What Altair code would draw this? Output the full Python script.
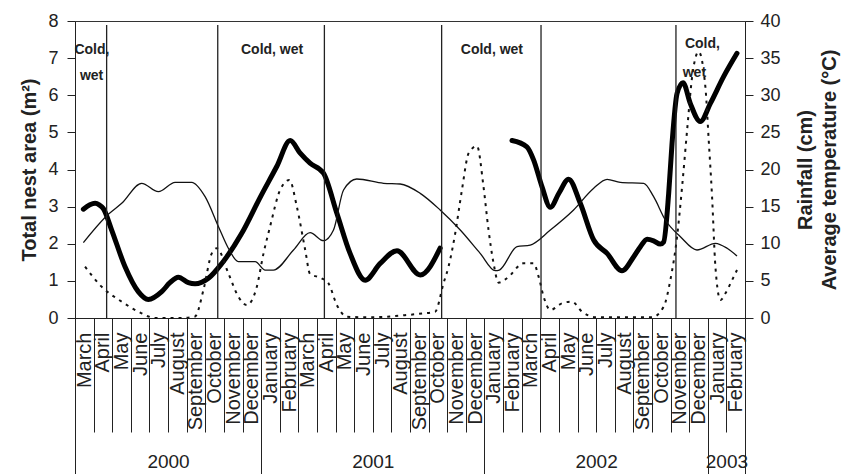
import altair as alt
import pandas as pd

# ---------------- data ----------------
cycle = ["March", "April", "May", "June", "July", "August", "September",
         "October", "November", "December", "January", "February"]
month_labels = (cycle * 3)  # March 2000 ... February 2003 (36 months)
years = ["2000", "2001", "2002", "2003"]
year_bounds = [0, 10, 22, 34, 36]  # month index where each year starts / ends

# Total nest area (m2), left axis; t = months since start of March 2000
nest_t = [0.45, 0.80, 1.08, 1.30, 1.52, 1.97, 2.69, 3.40, 3.94, 4.66, 5.10, 5.55,
          6.09, 6.45, 7.17, 7.89, 8.96, 9.95, 10.84, 11.56, 12.10, 12.63, 13.35,
          14.07, 14.78, 15.59, 16.40, 17.30, 18.55, 19.62,
          23.48, 24.28, 24.64, 25.09, 25.54, 26.00, 26.52, 27.15, 27.87, 28.59,
          29.39, 30.02, 30.38, 30.74, 31.09, 31.45, 31.63, 31.90, 32.08, 32.35,
          32.67, 33.06, 33.60, 34.14, 34.85, 35.57]
nest_v = [2.93, 3.05, 3.09, 3.05, 2.95, 2.37, 1.38, 0.71, 0.50, 0.71, 0.95, 1.10,
          0.95, 0.92, 1.07, 1.47, 2.28, 3.25, 4.08, 4.78, 4.44, 4.17, 3.90,
          2.82, 1.74, 1.02, 1.47, 1.81, 1.16, 1.88,
          4.78, 4.61, 4.26, 3.54, 2.98, 3.36, 3.74, 3.09, 2.10, 1.74,
          1.27, 1.65, 1.92, 2.12, 2.08, 1.99, 2.05, 3.36, 4.70, 6.05,
          6.34, 5.78, 5.29, 5.78, 6.50, 7.13]
nest_seg = [1] * 30 + [2] * 26

# Average temperature (deg C), right axis
temp_t = [0.45, 1.79, 2.51, 3.58, 4.48, 5.38, 6.27, 6.99, 7.71, 8.24, 8.78, 9.68,
          10.22, 10.66, 11.74, 12.63, 13.35, 13.89, 14.43, 15.14, 16.58, 17.47,
          18.55, 19.62, 20.70, 21.77, 22.58, 22.80, 23.75, 24.46, 25.54, 26.79,
          27.87, 28.59, 29.30, 30.56, 31.09, 31.72, 32.53, 33.42, 34.41, 35.04,
          35.57]
temp_v = [10.14, 13.96, 15.44, 18.14, 17.01, 18.27, 18.27, 16.34, 12.30, 9.39,
          7.59, 7.59, 6.46, 6.46, 9.16, 11.49, 10.41, 11.85, 17.24, 18.72, 18.14,
          18.05, 16.79, 14.55, 11.85, 8.71, 6.37, 6.46, 9.60, 9.83, 11.85, 14.55,
          17.47, 18.68, 18.27, 18.14, 16.34, 13.20, 10.95, 9.16, 10.06, 9.39,
          8.35]

# Rainfall (cm), right axis
rain_t = [0.54, 1.43, 2.51, 3.58, 4.30, 5.00, 5.80, 6.45, 6.90, 7.35, 7.62, 8.24,
          8.78, 9.23, 9.77, 10.13, 10.48, 11.02, 11.52, 11.92, 12.37, 12.63, 13.26,
          13.62, 14.07, 14.61, 15.50, 16.50, 17.83, 18.73, 19.35, 19.80, 20.07,
          20.43, 20.79, 21.15, 21.60, 21.95, 22.22, 22.49, 22.76, 23.21, 24.10,
          24.64, 24.91, 25.18, 25.54, 26.17, 26.70, 27.24, 28.00, 29.00, 30.00,
          31.00, 31.63, 31.99, 32.35, 32.62, 32.89, 33.16, 33.51, 33.87, 34.05,
          34.23, 34.41, 34.68, 34.95, 35.31, 35.57]
rain_v = [6.91, 4.22, 2.20, 0.63, 0.0, 0.0, 0.0, 0.2, 3.77, 8.71, 9.39, 6.02,
          2.87, 1.75, 4.22, 8.71, 12.30, 17.24, 18.59, 14.99, 9.16, 5.93, 5.35,
          4.67, 1.75, 0.18, 0.1, 0.15, 0.4, 0.63, 0.85, 4.67, 6.91,
          11.41, 17.24, 22.18, 23.16, 17.68, 11.85, 7.37, 4.76, 5.35, 7.37,
          7.37, 5.57, 2.87, 1.08, 1.98, 2.20, 0.85, 0.1, 0.1, 0.1,
          0.1, 1.52, 5.12, 10.95, 17.68, 25.32, 32.5, 35.86, 31.15, 23.97,
          16.34, 6.91, 2.42, 3.33, 5.12, 6.46]

# Season separators and "Cold, wet" notes (left-axis units)
sep_t = [1.70, 7.67, 13.40, 19.70, 25.04, 32.29]
sep_lo = [0] * 6
sep_hi = [7.89] * 6
ann_text = ["Cold,", "wet", "Cold, wet", "Cold, wet", "Cold,", "wet"]
ann_t = [0.91, 0.89, 10.59, 22.40, 33.71, 33.28]
ann_v = [7.22, 6.52, 7.22, 7.22, 7.38, 6.60]

# ---------------- frames ----------------
nest_df = pd.DataFrame({"t": nest_t, "v": nest_v, "seg": nest_seg})
temp_df = pd.DataFrame({"t": temp_t, "v": temp_v})
rain_df = pd.DataFrame({"t": rain_t, "v": rain_v})
sep_df = pd.DataFrame({"t": sep_t, "lo": sep_lo, "hi": sep_hi})
ann_df = pd.DataFrame({"text": ann_text, "t": ann_t, "v": ann_v})

FONT = "Liberation Sans"
INK = "#222222"
n_months = len(month_labels)

xscale = alt.Scale(domain=[0, n_months], nice=False, zero=False)
left_scale = alt.Scale(domain=[0, 8], nice=False, zero=True)
right_scale = alt.Scale(domain=[0, 40], nice=False, zero=True)

month_expr = "[" + ",".join("'%s'" % m for m in month_labels) + "][floor(datum.value)]"
year_centers = [(year_bounds[i] + year_bounds[i + 1]) / 2 for i in range(len(years))]
year_expr = ""
for i, y in enumerate(years[:-1]):
    year_expr += "datum.value < %s ? '%s' : " % (year_bounds[i + 1], y)
year_expr += "'%s'" % years[-1]

ax_month_ticks = alt.Axis(orient="bottom", values=list(range(n_months + 1)), tickSize=114,
                          labels=False, domain=True, domainColor=INK, tickColor=INK,
                          tickWidth=1, grid=False, title=None, offset=0)
ax_month_labels = alt.Axis(orient="bottom", values=[i + 0.5 for i in range(n_months)],
                           labelExpr=month_expr, ticks=False, tickSize=0, domain=False,
                           grid=False, title=None, labelAngle=270, labelAlign="right",
                           labelBaseline="middle", labelPadding=14, labelFontSize=20,
                           labelFont=FONT, labelColor=INK, labelOverlap=False,
                           labelFlush=False, labelBound=False, offset=0)
ax_year_ticks = alt.Axis(orient="bottom", values=year_bounds, tickSize=156, labels=False,
                         domain=False, tickColor=INK, tickWidth=1, grid=False, title=None,
                         offset=0)
ax_year_labels = alt.Axis(orient="bottom", values=year_centers, labelExpr=year_expr,
                          ticks=False, tickSize=0, domain=False, grid=False, title=None,
                          labelAngle=0, labelAlign="center", labelBaseline="middle",
                          labelPadding=143, labelFontSize=19, labelFont=FONT,
                          labelColor=INK, labelOverlap=False, labelFlush=False,
                          labelBound=False, offset=0)

left_axis = alt.Axis(orient="left", values=list(range(9)), tickSize=8, labelPadding=9,
                     labelFontSize=18, labelFont=FONT, labelColor=INK, domainColor=INK,
                     tickColor=INK, grid=False, title="Total nest area (m²)",
                     titleFont=FONT, titleFontSize=20, titleFontWeight="bold",
                     titleColor=INK, titleAngle=270, titleX=-40, titleY=148.5,
                     titleAlign="center", titleBaseline="alphabetic")
right_axis = alt.Axis(orient="right", values=list(range(0, 41, 5)), tickSize=8,
                      labelPadding=7, labelFontSize=18, labelFont=FONT, labelColor=INK,
                      domainColor=INK, tickColor=INK, grid=False,
                      title=["Rainfall (cm)", "Average temperature (°C)"], titleFont=FONT,
                      titleFontSize=20, titleFontWeight="bold", titleColor=INK,
                      titleAngle=270, titleX=66, titleY=148.5, titleAlign="center",
                      titleBaseline="alphabetic", titleLineHeight=24)

nest = alt.Chart(nest_df).mark_line(color="black", strokeWidth=5, strokeCap="round",
                                    strokeJoin="round", interpolate="monotone").encode(
    x=alt.X("t:Q", scale=xscale, axis=ax_month_ticks),
    y=alt.Y("v:Q", scale=left_scale, axis=left_axis),
    detail="seg:N",
)
temp = alt.Chart(temp_df).mark_line(color="#111111", strokeWidth=1.3,
                                    interpolate="monotone").encode(
    x=alt.X("t:Q", scale=xscale, axis=ax_month_labels),
    y=alt.Y("v:Q", scale=right_scale, axis=right_axis),
)
rain = alt.Chart(rain_df).mark_line(color="#111111", strokeWidth=2, strokeDash=[3, 5],
                                    interpolate="monotone").encode(
    x=alt.X("t:Q", scale=xscale, axis=ax_year_ticks),
    y=alt.Y("v:Q", scale=right_scale, axis=None),
)
seps = alt.Chart(sep_df).mark_rule(color=INK, strokeWidth=1.3).encode(
    x=alt.X("t:Q", scale=xscale, axis=ax_year_labels),
    y=alt.Y("lo:Q", scale=left_scale, axis=None),
    y2="hi:Q",
)
notes = alt.Chart(ann_df).mark_text(font=FONT, fontSize=14, fontWeight="bold", color=INK,
                                    align="center", baseline="middle").encode(
    x=alt.X("t:Q", scale=xscale, axis=None),
    y=alt.Y("v:Q", scale=left_scale, axis=None),
    text="text:N",
)

chart = alt.layer(nest, temp, rain, seps, notes).resolve_scale(
    y="independent"
).resolve_axis(
    x="independent", y="independent"
).properties(
    width=670, height=297,
    padding={"left": 75, "top": 21, "right": 96, "bottom": 156},
    autosize=alt.AutoSizeParams(type="none"),
    background="white",
).configure_view(stroke="#333333", strokeWidth=1)

chart.save("out.html", embed_options={"renderer": "svg", "actions": False})
